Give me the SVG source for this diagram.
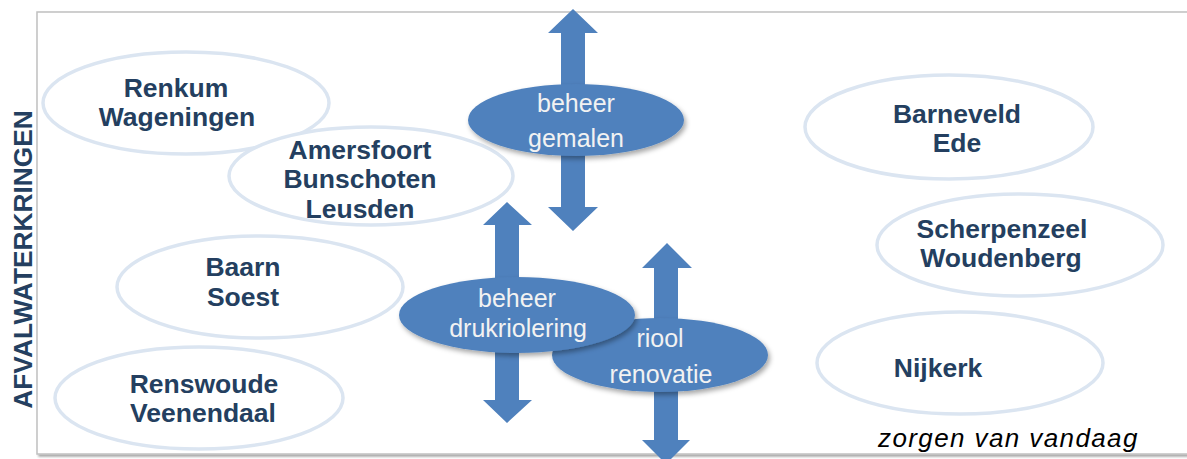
<svg xmlns="http://www.w3.org/2000/svg" width="1187" height="459" viewBox="0 0 1187 459">
  <defs>
    <filter id="soft-shadow" x="-20%" y="-30%" width="140%" height="170%">
      <feDropShadow dx="2" dy="3" stdDeviation="2.5" flood-color="#000" flood-opacity="0.35"/>
    </filter>
    <filter id="frame-shadow" x="-5%" y="-5%" width="110%" height="110%">
      <feDropShadow dx="2" dy="2" stdDeviation="1.2" flood-color="#000" flood-opacity="0.35"/>
    </filter>
  </defs>
  <style>
    .region { fill: #ffffff; stroke: #dbe5f1; stroke-width: 3.5; }
    .region-label { font-family: "Liberation Sans", Arial, sans-serif; font-weight: bold; font-size: 26.5px; fill: #243f60; text-anchor: middle; }
    .task { fill: #4f81bd; filter: url(#soft-shadow); }
    .task-label { font-family: "Liberation Sans", Arial, sans-serif; font-size: 25px; fill: #f2f2f2; text-anchor: middle; }
    .arrow { fill: #4f81bd; }
    .axis-label { font-family: "Liberation Sans", Arial, sans-serif; font-weight: bold; font-size: 26.3px; fill: #243f60; text-anchor: middle; }
    .note { font-family: "Liberation Sans", Arial, sans-serif; font-style: italic; font-size: 26px; fill: #000000; letter-spacing: 1.4px; }
  </style>

  <!-- chart frame -->
  <g id="frame">
    <rect x="37" y="12" width="1160" height="442" fill="#ffffff" stroke="#c0c0c0" stroke-width="1.5" filter="url(#frame-shadow)"/>
  </g>

  <!-- vertical axis title -->
  <text class="axis-label" transform="translate(31.5,259.5) rotate(-90)">AFVALWATERKRINGEN</text>

  <!-- municipal clusters -->
  <g id="renkum-wageningen">
    <ellipse class="region" cx="186" cy="103" rx="143" ry="51"/>
    <text class="region-label" x="176" y="97">Renkum</text>
    <text class="region-label" x="177" y="126">Wageningen</text>
  </g>
  <g id="amersfoort-bunschoten-leusden">
    <ellipse class="region" cx="371" cy="176" rx="142" ry="49"/>
    <text class="region-label" x="360" y="159">Amersfoort</text>
    <text class="region-label" x="360" y="188">Bunschoten</text>
    <text class="region-label" x="360" y="218">Leusden</text>
  </g>
  <g id="baarn-soest">
    <ellipse class="region" cx="260" cy="287" rx="143" ry="51"/>
    <text class="region-label" x="243" y="276">Baarn</text>
    <text class="region-label" x="243" y="306">Soest</text>
  </g>
  <g id="renswoude-veenendaal">
    <ellipse class="region" cx="199" cy="398" rx="144" ry="51"/>
    <text class="region-label" x="204" y="393">Renswoude</text>
    <text class="region-label" x="203" y="422">Veenendaal</text>
  </g>
  <g id="barneveld-ede">
    <ellipse class="region" cx="949" cy="127" rx="144" ry="52"/>
    <text class="region-label" x="957" y="123">Barneveld</text>
    <text class="region-label" x="957" y="152">Ede</text>
  </g>
  <g id="scherpenzeel-woudenberg">
    <ellipse class="region" cx="1020" cy="245" rx="143" ry="51"/>
    <text class="region-label" x="1002" y="238">Scherpenzeel</text>
    <text class="region-label" x="1001" y="267">Woudenberg</text>
  </g>
  <g id="nijkerk">
    <ellipse class="region" cx="960" cy="363" rx="143" ry="51"/>
    <text class="region-label" x="938" y="377">Nijkerk</text>
  </g>

  <!-- double-headed arrows showing the reach of each shared task -->
  <g id="connectors">
    <path class="arrow" d="M573 9 L598 33 L585 33 L585 207 L598 207 L573 231 L548 207 L561 207 L561 33 L548 33 Z"/>
    <path class="arrow" d="M507 202 L532 225 L519 225 L519 400 L532 400 L507 423 L483 400 L495 400 L495 225 L483 225 Z"/>
    <path class="arrow" d="M667 243 L692 268 L678 268 L678 440 L690 440 L666 464 L642 440 L654 440 L654 268 L642 268 Z"/>
  </g>

  <!-- shared tasks -->
  <g id="beheer-gemalen">
    <ellipse class="task" cx="576" cy="120" rx="108" ry="36"/>
    <text class="task-label" x="576" y="112">beheer</text>
    <text class="task-label" x="576" y="147">gemalen</text>
  </g>
  <g id="riool-renovatie">
    <ellipse class="task" cx="660" cy="355" rx="108" ry="37"/>
    <text class="task-label" x="660" y="347" font-size="27">riool</text>
    <text class="task-label" x="661" y="383" font-size="27">renovatie</text>
  </g>
  <g id="beheer-drukriolering">
    <ellipse class="task" cx="517" cy="315" rx="118" ry="38"/>
    <text class="task-label" x="517" y="307" font-size="24">beheer</text>
    <text class="task-label" x="518" y="337" font-size="24.3">drukriolering</text>
  </g>

  <!-- caption -->
  <text class="note" x="878" y="447">zorgen van vandaag</text>
</svg>
